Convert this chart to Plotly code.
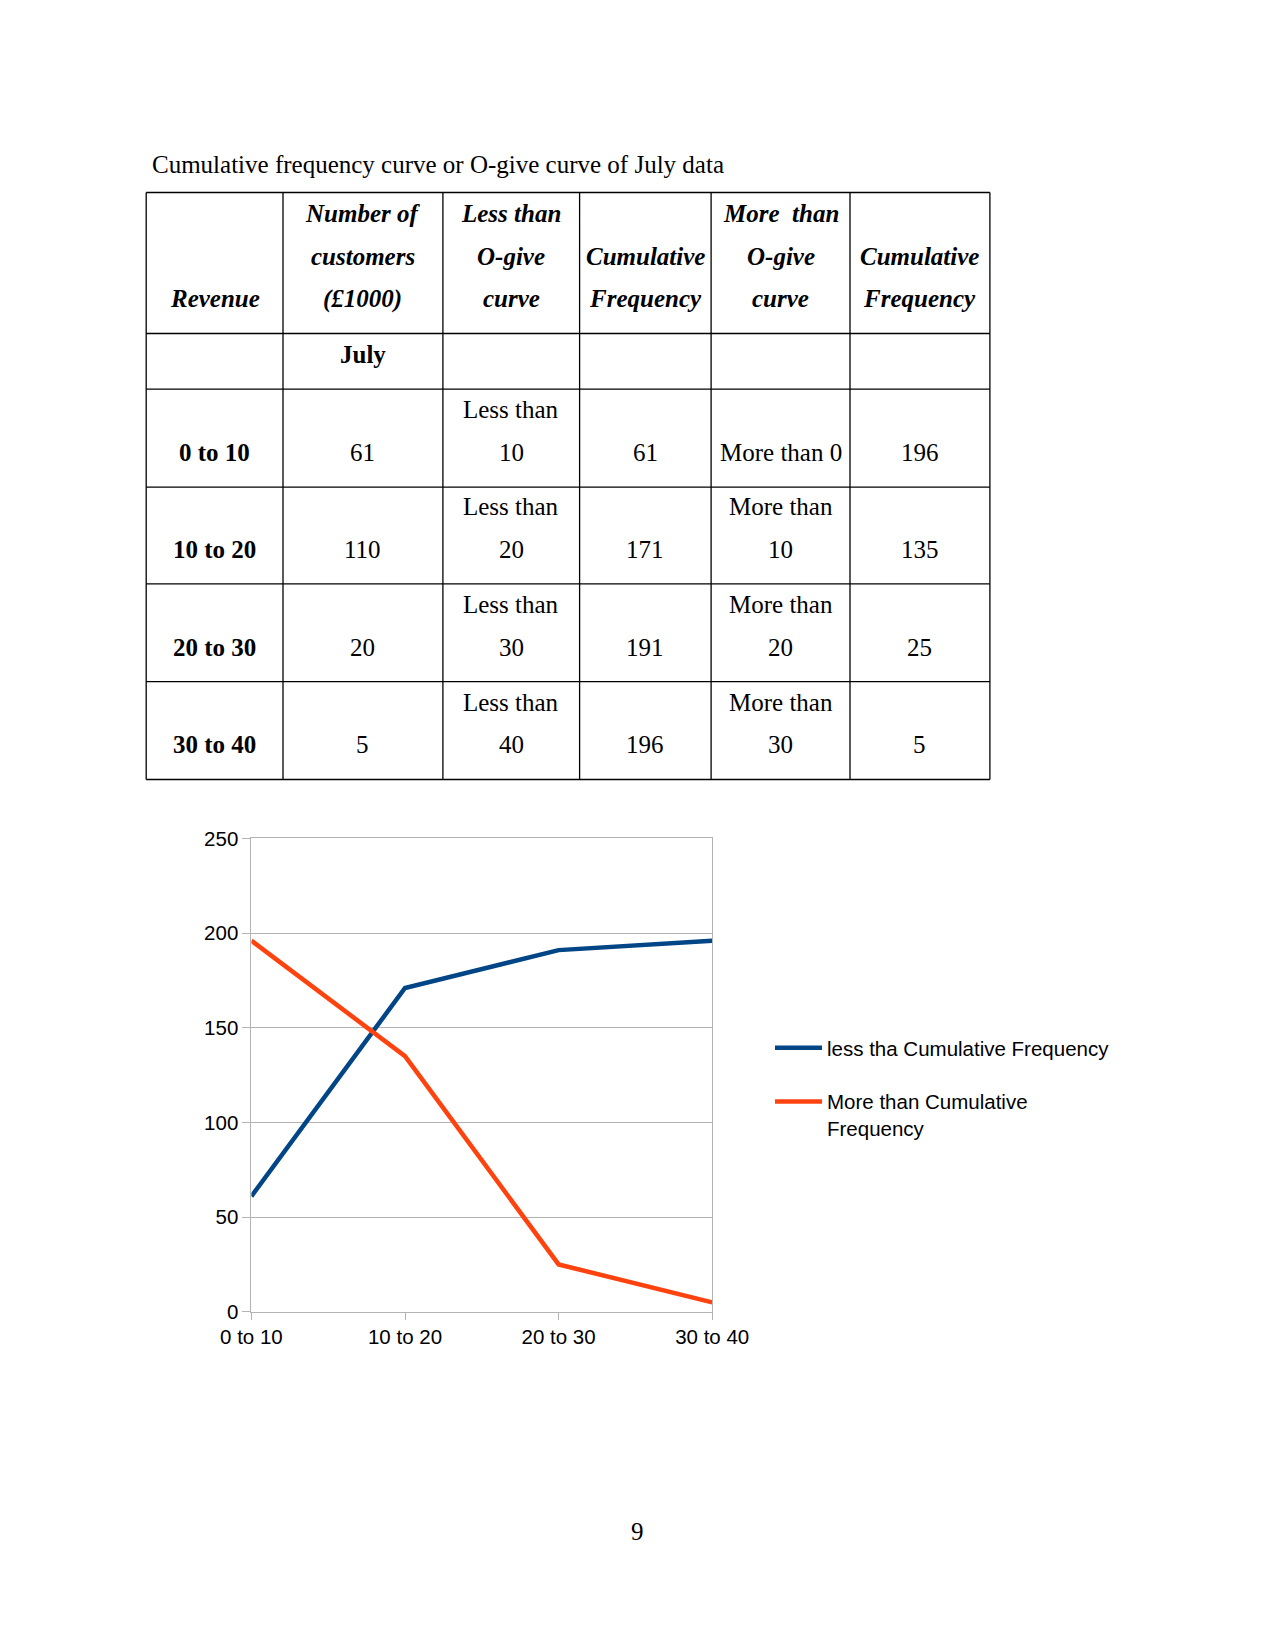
import plotly.graph_objects as go

W, H = 1275, 1650

# ---------------- data ----------------
categories = ["0 to 10", "10 to 20", "20 to 30", "30 to 40"]
customers_july = [61, 110, 20, 5]
less_than_bounds = [10, 20, 30, 40]
less_than_cf = [61, 171, 191, 196]
more_than_bounds = [0, 10, 20, 30]
more_than_cf = [196, 135, 25, 5]
series_names = ["less tha Cumulative Frequency", "More than Cumulative<br>Frequency"]
y_ticks = [0, 50, 100, 150, 200, 250]

title_text = "Cumulative frequency curve or O-give curve of July data"
header_lines = [
    ["Revenue"],
    ["Number of", "customers", "(£1000)"],
    ["Less than", "O-give", "curve"],
    ["Cumulative", "Frequency"],
    ["More\u00a0 than", "O-give", "curve"],
    ["Cumulative", "Frequency"],
]

# ---------------- layout helpers ----------------
def px(x):
    return x / W

def py(y):
    return 1 - y / H

col_edges = [146.2, 283.0, 442.9, 579.6, 711.1, 850.0, 989.9]
row_edges = [192.5, 333.5, 389.2, 487.1, 583.8, 681.7, 779.5]
LINE_GAP = 42.6
BOTTOM_OFF = 34.6
SERIF = "Liberation Serif"
SANS = "Liberation Sans"
TFS = 25

fig = go.Figure()
colors = ["#004586", "#ff420e"]
for vals, name, c in zip([less_than_cf, more_than_cf], series_names, colors):
    fig.add_trace(go.Scatter(
        x=categories, y=vals, mode="lines", name=name,
        line=dict(color=c, width=4.5),
        legendgroup=name,
    ))

annotations = []
shapes = []

def add_text(text, cx, cy, bold=False, italic=False, size=TFS, family=SERIF, xanchor="center"):
    t = text
    if italic:
        t = "<i>" + t + "</i>"
    if bold:
        t = "<b>" + t + "</b>"
    annotations.append(dict(
        text=t, x=px(cx), y=py(cy), xref="paper", yref="paper",
        xanchor=xanchor, yanchor="middle", showarrow=False,
        font=dict(family=family, size=size, color="#000000"),
    ))

def add_cell(lines, col, row, bold=False, italic=False):
    cx = (col_edges[col] + col_edges[col + 1]) / 2
    bottom = row_edges[row + 1] - BOTTOM_OFF
    n = len(lines)
    for i, ln in enumerate(lines):
        cy = bottom - (n - 1 - i) * LINE_GAP
        add_text(ln, cx, cy, bold=bold, italic=italic)

# title
add_text(title_text, 150.0, 165.0, xanchor="left")

# header
for ci, lines in enumerate(header_lines):
    add_cell(lines, ci, 0, bold=True, italic=True)
add_cell(["July"], 1, 1, bold=True)

# body
for ri in range(len(categories)):
    r = ri + 2
    add_cell([categories[ri]], 0, r, bold=True)
    add_cell([str(customers_july[ri])], 1, r)
    add_cell(["Less than", str(less_than_bounds[ri])], 2, r)
    add_cell([str(less_than_cf[ri])], 3, r)
    mt = "More than " + str(more_than_bounds[ri])
    if ri == 0:
        add_cell([mt], 4, r)
    else:
        add_cell(["More than", str(more_than_bounds[ri])], 4, r)
    add_cell([str(more_than_cf[ri])], 5, r)

# table lines
for yv in row_edges:
    shapes.append(dict(type="line", xref="paper", yref="paper",
                       x0=px(col_edges[0]), x1=px(col_edges[-1]), y0=py(yv), y1=py(yv),
                       line=dict(color="#000000", width=1.3)))
for xv in col_edges:
    shapes.append(dict(type="line", xref="paper", yref="paper",
                       x0=px(xv), x1=px(xv), y0=py(row_edges[0]), y1=py(row_edges[-1]),
                       line=dict(color="#000000", width=1.3)))

# page number
add_text("9", 637.5, 1531.5)

GRID = "#b3b3b3"
fig.update_layout(
    width=W, height=H, autosize=False,
    margin=dict(l=0, r=0, t=0, b=0, pad=0, autoexpand=False),
    paper_bgcolor="white", plot_bgcolor="white",
    showlegend=True,
    legend=dict(
        x=px(770), y=py(1028), xanchor="left", yanchor="top",
        font=dict(family=SANS, size=20.5, color="#000000"),
        tracegroupgap=24, valign="top", itemwidth=47,
        bgcolor="rgba(0,0,0,0)",
    ),
    xaxis=dict(
        domain=[px(251.4), px(712.2)], automargin=False,
        type="category", range=[0, 3],
        showgrid=False, showline=True, mirror=True, linecolor=GRID, linewidth=1,
        ticks="outside", ticklen=7, tickcolor=GRID, tickwidth=1,
        tickfont=dict(family=SANS, size=20.5, color="#000000"),
        zeroline=False,
    ),
    yaxis=dict(
        domain=[py(1311.8), py(838.4)], automargin=False,
        range=[0, 250], tickvals=y_ticks,
        showgrid=True, gridcolor=GRID, gridwidth=1,
        showline=True, mirror=True, linecolor=GRID, linewidth=1,
        ticks="outside", ticklen=8, tickcolor=GRID, tickwidth=1,
        tickfont=dict(family=SANS, size=20.5, color="#000000"),
        zeroline=False,
    ),
    annotations=annotations,
    shapes=shapes,
)

fig.write_html("out.html")
